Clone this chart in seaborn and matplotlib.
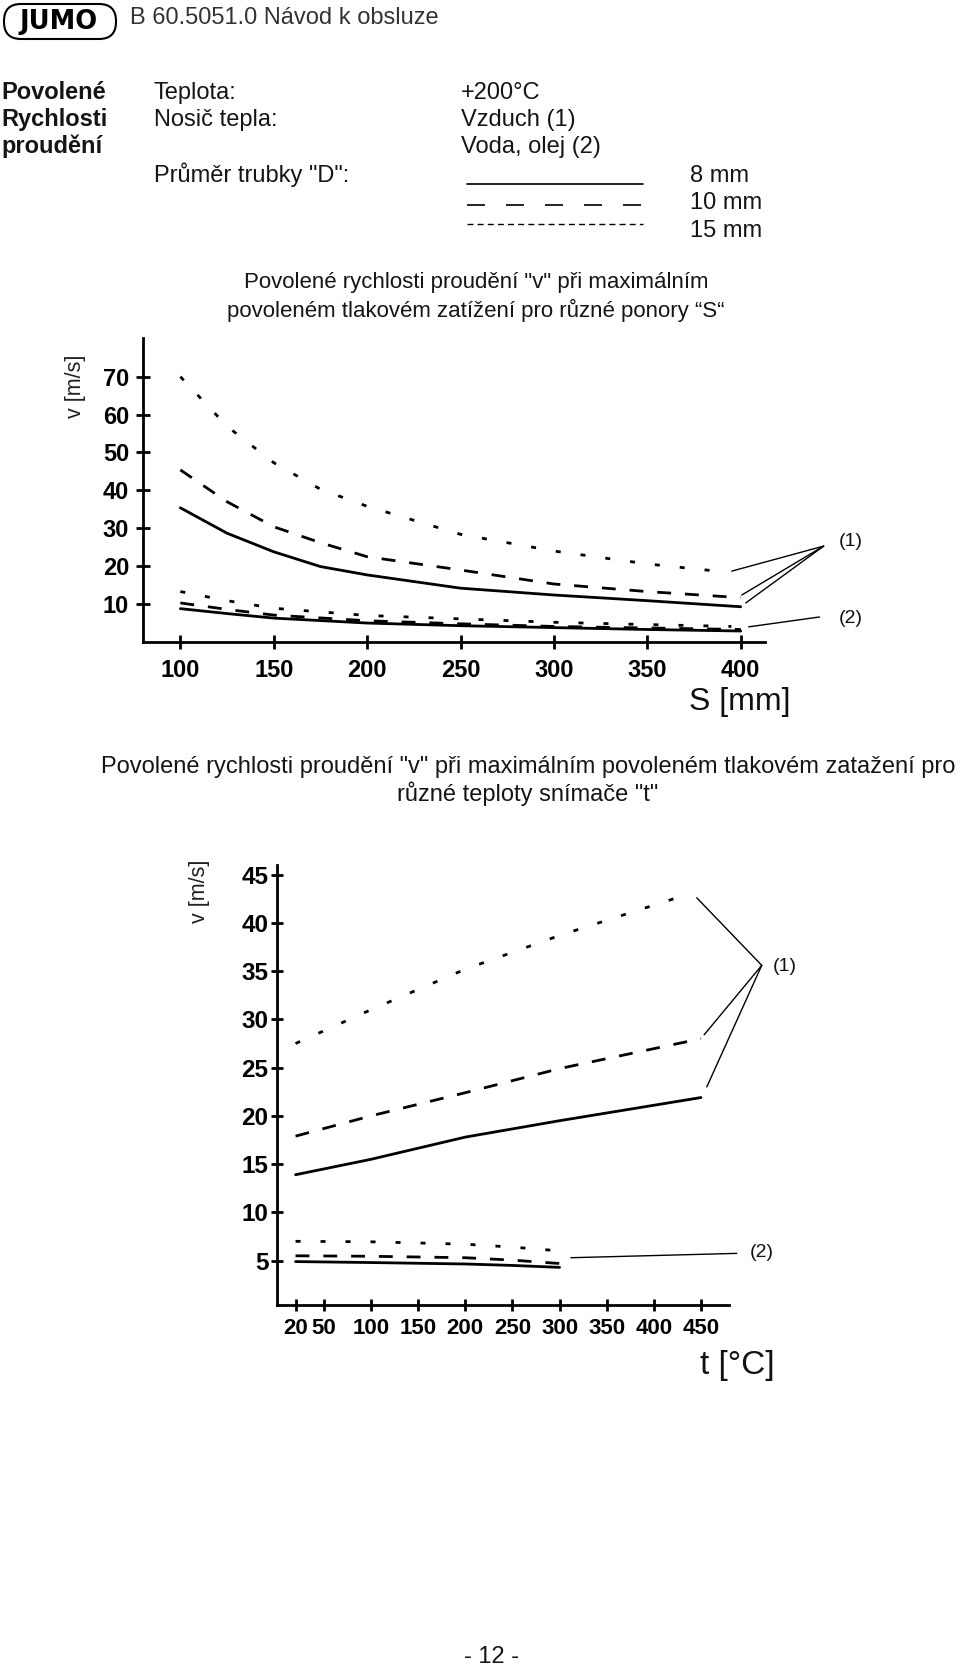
import numpy as np
import pandas as pd
import seaborn as sns
import matplotlib
matplotlib.use("Agg")
import matplotlib.pyplot as plt
from matplotlib import font_manager
from matplotlib.patches import FancyBboxPatch
from matplotlib.lines import Line2D

# chart 1: velocity vs immersion length S
s_mm = [100, 125, 150, 175, 200, 250, 300, 350, 400]
s_mm_dot = [100, 125, 150, 175, 200, 250, 300, 350, 391]
air_8mm = [35.4, 28.7, 23.8, 19.9, 17.7, 14.2, 12.4, 10.9, 9.3]
air_10mm = [45.4, 37.0, 30.4, 26.2, 22.5, 19.0, 15.3, 13.3, 11.7]
air_15mm = [70.0, 56.9, 47.3, 40.3, 35.8, 28.4, 24.0, 20.6, 18.5]

s_water = [100, 125, 150, 200, 250, 300, 350, 400]
s_water_dot = [100, 125, 150, 200, 250, 300, 350, 395]
water_8mm = [8.8, 7.5, 6.3, 5.0, 4.3, 3.8, 3.3, 2.9]
water_10mm = [10.3, 8.6, 7.1, 5.6, 4.8, 4.1, 3.7, 3.3]
water_15mm = [13.3, 10.9, 8.9, 7.0, 6.1, 5.2, 4.6, 4.1]

s_ticks = [100, 150, 200, 250, 300, 350, 400]
v1_ticks = [10, 20, 30, 40, 50, 60, 70]

# chart 2: velocity vs sensor temperature t
t_air = [20, 100, 200, 300, 450]
t_air_dot = [20, 100, 200, 300, 437]
air2_8mm = [13.9, 15.5, 17.8, 19.5, 21.9]
air2_10mm = [17.9, 20.0, 22.4, 24.9, 28.0]
air2_15mm = [27.5, 31.0, 35.2, 38.7, 43.0]

t_water = [20, 100, 200, 250, 300]
t_water_dot = [20, 100, 200, 250, 295]
water2_8mm = [4.9, 4.8, 4.65, 4.5, 4.3]
water2_10mm = [5.5, 5.45, 5.3, 5.05, 4.7]
water2_15mm = [7.0, 6.95, 6.7, 6.4, 6.05]

t_ticks = [20, 50, 100, 150, 200, 250, 300, 350, 400, 450]
v2_ticks = [5, 10, 15, 20, 25, 30, 35, 40, 45]

sns.set_theme(style="white")
plt.rcParams['font.family'] = ['Liberation Sans', 'DejaVu Sans']

# condensed bold digits if a narrow face is there
try:
    font_manager.findfont(font_manager.FontProperties(family='Liberation Sans Narrow'),
                          fallback_to_default=False)
    tick_family = 'Liberation Sans Narrow'
    tick_sizes = (18.5, 19, 18)
except Exception:
    tick_family = 'Liberation Sans'
    tick_sizes = (17, 17.5, 16)

W, H = 960, 1666
fig = plt.figure(figsize=(W / 100, H / 100), dpi=100)

# page overlay in pixel coordinates
page = fig.add_axes([0, 0, 1, 1])
page.set_xlim(0, W)
page.set_ylim(H, 0)
page.axis("off")
page.patch.set_alpha(0)

txt = '#151515'
fs = 17

# header
page.add_patch(FancyBboxPatch((4, 4), 112, 35, boxstyle="round,pad=0,rounding_size=17",
                              fc='white', ec='black', lw=1.5))
page.text(59, 22, "JUMO", ha='center', va='center', fontsize=18.5, fontweight='heavy',
          family='DejaVu Sans', color='black')
page.text(130, 24, "B 60.5051.0 Návod k obsluze", fontsize=fs, color='#333333', va='baseline')

# info block
for y, s in [(99, "Povolené"), (126, "Rychlosti"), (153, "proudění")]:
    page.text(1, y, s, fontsize=fs, fontweight='bold', color=txt, va='baseline')
page.text(154, 99, "Teplota:", fontsize=fs, color=txt, va='baseline')
page.text(154, 126, "Nosič tepla:", fontsize=fs, color=txt, va='baseline')
page.text(154, 182, 'Průměr trubky "D":', fontsize=fs, color=txt, va='baseline')
page.text(461, 99, "+200°C", fontsize=fs, color=txt, va='baseline')
page.text(461, 126, "Vzduch (1)", fontsize=fs, color=txt, va='baseline')
page.text(461, 153, "Voda, olej (2)", fontsize=fs, color=txt, va='baseline')
page.text(690, 182, "8 mm", fontsize=fs, color=txt, va='baseline')
page.text(690, 209, "10 mm", fontsize=fs, color=txt, va='baseline')
page.text(690, 237, "15 mm", fontsize=fs, color=txt, va='baseline')

page.add_line(Line2D([467, 643], [184, 184], color='black', lw=1.2))
page.add_line(Line2D([467, 643], [205, 205], color='black', lw=1.2,
                     linestyle=(0, (10.8, 12.6))))
page.add_line(Line2D([467, 643], [224, 224], color='black', lw=1.0,
                     linestyle=(0, (4.3, 3.0))))

# chart titles and page number
page.text(476, 288, 'Povolené rychlosti proudění "v" při maximálním', fontsize=16,
          ha='center', color=txt, va='baseline')
page.text(476, 317, 'povoleném tlakovém zatížení pro různé ponory “S“', fontsize=16,
          ha='center', color=txt, va='baseline')
page.text(528, 773, 'Povolené rychlosti proudění "v" při maximálním povoleném tlakovém zatažení pro',
          fontsize=fs, ha='center', color=txt, va='baseline')
page.text(528, 801, 'různé teploty snímače "t"', fontsize=fs, ha='center', color=txt, va='baseline')
page.text(491, 1663, "- 12 -", fontsize=fs, ha='center', color=txt, va='baseline')

# axis titles
page.text(76, 386, "v [m/s]", rotation=90, ha='center', va='center', fontsize=15.5, color='#222')
page.text(200, 891, "v [m/s]", rotation=90, ha='center', va='center', fontsize=15.5, color='#222')
page.text(740, 710, "S [mm]", ha='center', va='baseline', fontsize=23, color='#111')
page.text(737, 1374, "t [°C]", ha='center', va='baseline', fontsize=24, color='#111')

solid = '-'
dashed = (0, (5.0, 5.0))
dotted = (0, (1.8, 7.2))
lw = 2.0


def style_axes(ax, xt, yt, xsize, ysize, xpad, ypad, tlen):
    sns.despine(ax=ax)
    for sp in ['left', 'bottom']:
        ax.spines[sp].set_color('black')
        ax.spines[sp].set_linewidth(2.0)
    ax.set_xticks(xt)
    ax.set_yticks(yt)
    ax.tick_params(axis='both', direction='inout', length=tlen, width=2.0, color='black',
                   labelcolor='black', left=True, bottom=True)
    ax.tick_params(axis='x', pad=xpad, labelsize=xsize)
    ax.tick_params(axis='y', pad=ypad, labelsize=ysize)
    for lbl in ax.get_xticklabels() + ax.get_yticklabels():
        lbl.set_fontweight('bold')
        lbl.set_family(tick_family)
    ax.set_xlabel('')
    ax.set_ylabel('')
    ax.patch.set_alpha(0)


# ---- chart 1
ax1 = fig.add_axes([143 / W, 1 - 642 / H, 622 / W, 304 / H])
for xs, ys, ls in [(s_mm, air_8mm, solid), (s_mm, air_10mm, dashed), (s_mm_dot, air_15mm, dotted),
                   (s_water, water_8mm, solid), (s_water, water_10mm, dashed),
                   (s_water_dot, water_15mm, dotted)]:
    sns.lineplot(x=xs, y=ys, ax=ax1, color='black', linewidth=lw, linestyle=ls)
ax1.set_xlim(80, 413)
ax1.set_ylim(0, 80.2)
style_axes(ax1, s_ticks, v1_ticks, tick_sizes[0], tick_sizes[0], 7, 5, 10)

lead1_x = [395.2, 400.6, 402.7]
lead1_y = [18.7, 12.4, 10.3]
for x, y in zip(lead1_x, lead1_y):
    ax1.plot([x, 444.4], [y, 25.3], color='black', lw=1.0, clip_on=False)
ax1.plot([404.3, 442.2], [4.0, 6.6], color='black', lw=1.0, clip_on=False)
ax1.text(452.4, 26.4, "(1)", va='center', fontsize=14, color='#111', clip_on=False)
ax1.text(452.4, 6.3, "(2)", va='center', fontsize=14, color='#111', clip_on=False)

# ---- chart 2
ax2 = fig.add_axes([276.7 / W, 1 - 1305 / H, 452.6 / W, 440 / H])
for xs, ys, ls in [(t_air, air2_8mm, solid), (t_air, air2_10mm, dashed),
                   (t_air_dot, air2_15mm, dotted),
                   (t_water, water2_8mm, solid), (t_water, water2_10mm, dashed),
                   (t_water_dot, water2_15mm, dotted)]:
    sns.lineplot(x=xs, y=ys, ax=ax2, color='black', linewidth=lw, linestyle=ls)
ax2.set_xlim(0, 480)
ax2.set_ylim(0.4, 46)
style_axes(ax2, t_ticks, v2_ticks, tick_sizes[2], tick_sizes[1], 5.5, 2, 8)

lead2_x = [445.5, 453.3, 456.1]
lead2_y = [42.6, 28.4, 23.0]
for x, y in zip(lead2_x, lead2_y):
    ax2.plot([x, 514.4], [y, 35.6], color='black', lw=1.0, clip_on=False)
ax2.plot([312, 487.9], [5.3, 5.75], color='black', lw=1.0, clip_on=False)
ax2.text(526, 35.5, "(1)", va='center', fontsize=14, color='#111', clip_on=False)
ax2.text(501.6, 5.8, "(2)", va='center', fontsize=14, color='#111', clip_on=False)

fig.savefig("out.png", dpi=100, facecolor='white')
